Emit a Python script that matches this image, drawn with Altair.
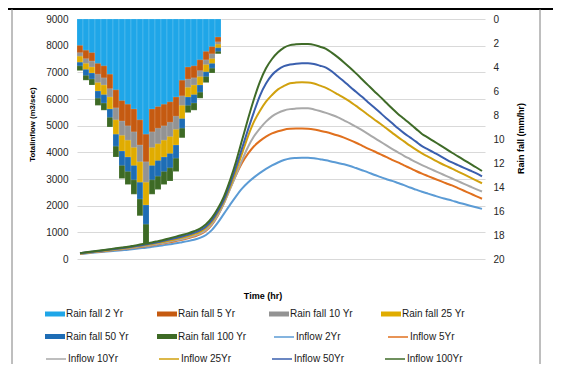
import altair as alt
import pandas as pd

# ---------------- data ----------------
rain_hours = list(range(1, 25))
rain_2yr = [2.2, 2.6, 2.8, 3.7, 3.9, 4.6, 5.9, 6.8, 7.1, 7.5, 8.4, 9.6, 7.5, 7.3, 7.1, 6.9, 6.5, 5.1, 4.0, 3.9, 3.4, 2.7, 2.3, 1.5]
rain_5yr = [2.8, 3.3, 3.5, 4.6, 4.9, 5.8, 7.4, 8.5, 8.9, 9.4, 10.5, 11.9, 9.4, 9.1, 8.9, 8.6, 8.1, 6.4, 5.0, 4.9, 4.3, 3.4, 2.9, 1.9]
rain_10yr = [3.1, 3.7, 4.0, 5.3, 5.5, 6.5, 8.4, 9.7, 10.1, 10.7, 11.9, 13.6, 10.7, 10.4, 10.1, 9.8, 9.2, 7.2, 5.7, 5.5, 4.8, 3.8, 3.3, 2.1]
rain_25yr = [3.6, 4.2, 4.5, 6.0, 6.3, 7.5, 9.6, 11.0, 11.5, 12.2, 13.6, 15.5, 12.2, 11.8, 11.5, 11.2, 10.5, 8.3, 6.5, 6.3, 5.5, 4.4, 3.7, 2.4]
rain_50yr = [3.9, 4.7, 5.0, 6.6, 7.0, 8.2, 10.6, 12.2, 12.7, 13.4, 15.0, 17.1, 13.4, 13.1, 12.7, 12.4, 11.6, 9.1, 7.2, 7.0, 6.1, 4.8, 4.1, 2.7]
rain_100yr = [4.3, 5.1, 5.5, 7.2, 7.6, 9.0, 11.5, 13.3, 13.8, 14.6, 16.4, 18.7, 14.6, 14.2, 13.8, 13.5, 12.7, 9.9, 7.8, 7.6, 6.6, 5.3, 4.5, 2.9]

flow_hours = list(range(1, 69))
flow_2yr = [190, 210, 230, 250, 270, 290, 310, 330, 350, 375,
            400, 425, 455, 485, 520, 555, 590, 630, 670, 720,
            790, 900, 1090, 1370, 1700, 2030, 2350, 2640, 2870, 3060,
            3230, 3380, 3510, 3620, 3710, 3770, 3790, 3800, 3800, 3780,
            3740, 3700, 3650, 3600, 3550, 3490, 3410, 3330, 3250, 3160,
            3080, 3000, 2930, 2850, 2770, 2680, 2600, 2520, 2450, 2380,
            2310, 2250, 2190, 2120, 2060, 2000, 1940, 1880]
flow_5yr = [200, 225, 250, 275, 295, 320, 345, 370, 395, 420,
            450, 480, 515, 550, 590, 630, 675, 720, 775, 840,
            920, 1060, 1290, 1640, 2100, 2640, 3150, 3600, 3950, 4230,
            4430, 4590, 4710, 4790, 4850, 4880, 4890, 4890, 4885, 4860,
            4810, 4760, 4700, 4630, 4550, 4460, 4360, 4250, 4140, 4040,
            3930, 3830, 3720, 3620, 3510, 3410, 3300, 3200, 3110, 3020,
            2930, 2840, 2760, 2660, 2560, 2460, 2360, 2260]
flow_10yr = [205, 230, 255, 280, 305, 330, 355, 380, 405, 435,
             465, 500, 535, 570, 610, 655, 700, 750, 805, 870,
             950, 1090, 1320, 1660, 2100, 2620, 3150, 3700, 4200, 4600,
             4900, 5150, 5350, 5480, 5570, 5620, 5640, 5650, 5650, 5610,
             5550, 5480, 5400, 5310, 5200, 5090, 4960, 4830, 4690, 4550,
             4410, 4270, 4130, 4000, 3870, 3750, 3630, 3520, 3420, 3320,
             3220, 3120, 3020, 2920, 2820, 2720, 2620, 2530]
flow_25yr = [210, 235, 260, 290, 315, 340, 370, 395, 425, 455,
             490, 525, 565, 605, 650, 700, 750, 805, 865, 935,
             1020, 1170, 1400, 1740, 2170, 2700, 3300, 3950, 4600, 5150,
             5560, 5900, 6150, 6360, 6490, 6590, 6615, 6625, 6620, 6580,
             6500, 6420, 6300, 6170, 6040, 5900, 5740, 5580, 5410, 5240,
             5080, 4910, 4740, 4570, 4410, 4250, 4100, 3960, 3840, 3720,
             3600, 3490, 3390, 3280, 3170, 3060, 2950, 2840]
flow_50yr = [215, 240, 270, 300, 325, 355, 385, 410, 440, 475,
             510, 550, 590, 635, 680, 735, 790, 845, 905, 980,
             1070, 1220, 1460, 1800, 2230, 2800, 3450, 4150, 4850, 5520,
             6130, 6580, 6900, 7100, 7230, 7290, 7325, 7340, 7340, 7310,
             7250, 7180, 7030, 6840, 6660, 6460, 6270, 6080, 5880, 5690,
             5490, 5290, 5100, 4900, 4720, 4560, 4400, 4230, 4110, 3990,
             3870, 3740, 3620, 3520, 3420, 3320, 3220, 3100]
flow_100yr = [220, 250, 280, 310, 340, 370, 400, 430, 460, 500,
              540, 580, 620, 670, 720, 780, 840, 900, 960, 1040,
              1140, 1300, 1550, 1900, 2350, 2950, 3650, 4450, 5250, 6000,
              6650, 7150, 7500, 7750, 7930, 8020, 8050, 8065, 8060, 8030,
              7960, 7880, 7730, 7560, 7370, 7170, 6960, 6740, 6520, 6300,
              6090, 5870, 5650, 5440, 5260, 5070, 4880, 4690, 4550, 4410,
              4270, 4130, 3985, 3850, 3710, 3575, 3440, 3300]

rain_names = ["Rain fall 2 Yr", "Rain fall 5 Yr", "Rain fall 10 Yr",
              "Rain fall 25 Yr", "Rain fall 50 Yr", "Rain fall 100 Yr"]
flow_names = ["Inflow 2Yr", "Inflow 5Yr", "Inflow 10Yr",
              "Inflow 25Yr", "Inflow 50Yr", "Inflow 100Yr"]
rain_colors = ["#1FA6E8", "#C55A11", "#939393", "#E0AC00", "#1E6DB5", "#3D6A25"]
flow_colors = ["#5B9BD5", "#E0701E", "#A9A9A9", "#D1A10E", "#3A5FAE", "#3F6B28"]
x_tick_values = [1, 11, 21, 31, 41, 51, 61]
x_title = "Time (hr)"

rain_series = [rain_2yr, rain_5yr, rain_10yr, rain_25yr, rain_50yr, rain_100yr]
flow_series = [flow_2yr, flow_5yr, flow_10yr, flow_25yr, flow_50yr, flow_100yr]

# bars: biggest (100 yr) drawn first so smaller ones are in front
rain_rows = []
for name, vals in reversed(list(zip(rain_names, rain_series))):
    for h, v in zip(rain_hours, vals):
        rain_rows.append({"hour": h, "series": name, "rain": v})
rain_df = pd.DataFrame(rain_rows)

flow_rows = []
for name, vals in zip(flow_names, flow_series):
    for h, v in zip(flow_hours, vals):
        flow_rows.append({"hour": h, "series": name, "flow": v})
flow_df = pd.DataFrame(flow_rows)
flow_a = flow_df[flow_df["series"].isin(flow_names[:2])]
flow_b = flow_df[flow_df["series"].isin(flow_names[2:])]

FONT = "Liberation Sans"
x_scale = alt.Scale(domain=[0.5, 68.5], nice=False, zero=False)
y_flow_scale = alt.Scale(domain=[0, 9000], nice=False)
LX = -32
LY = 285
PITCH = 114

common_legend = dict(orient="none", title=None, symbolSize=400, direction="horizontal",
                     labelFontSize=10, labelFont=FONT, labelColor="#1a1a1a",
                     labelOffset=1, gridAlign="all")

rain_legend = alt.Legend(legendX=LX, legendY=LY, columns=4, columnPadding=22,
                         rowPadding=7.5, symbolType="M-1,-0.25H1V0.25H-1Z",
                         symbolStrokeWidth=0, **common_legend)
flow_a_legend = alt.Legend(legendX=LX + 2 * PITCH, legendY=LY + 22, columns=2,
                           columnPadding=44, symbolType="stroke",
                           symbolStrokeWidth=1.5, **common_legend)
flow_b_legend = alt.Legend(legendX=LX, legendY=LY + 44, columns=4,
                           columnPadding=32, symbolType="stroke",
                           symbolStrokeWidth=1.5, **common_legend)

label_style = dict(labelFont=FONT, labelFontSize=10, labelColor="#262626",
                   titleFont=FONT, titleFontWeight="bold", titleColor="#000000")

bars = alt.Chart(rain_df).transform_calculate(
    x0="datum.hour - 0.5", x1="datum.hour + 0.5", zero="0"
).mark_bar(stroke="white", strokeWidth=0.5, strokeOpacity=0.3).encode(
    x=alt.X("x0:Q", scale=x_scale, axis=None),
    x2="x1:Q",
    y=alt.Y("rain:Q", scale=alt.Scale(domain=[0, 20], reverse=True, nice=False),
            axis=alt.Axis(orient="right", values=list(range(0, 21, 2)), title="Rain fall (mm/hr)",
                          grid=False, domain=False, ticks=False, tickSize=0, labelPadding=8,
                          titleFontSize=9, titleAngle=270, titleX=35, titleY=119,
                          titleAlign="center", titleBaseline="middle", **label_style)),
    y2="zero:Q",
    fill=alt.Fill("series:N", scale=alt.Scale(domain=rain_names, range=rain_colors),
                  legend=rain_legend),
)

x_axis = alt.Axis(values=x_tick_values, title=None, grid=False, ticks=False, tickSize=0,
                  domainColor="#A6A6A6", domainWidth=1.5, labelPadding=6, **label_style)
y_axis = alt.Axis(orient="left", values=list(range(0, 9001, 1000)), format="d",
                  title="Totalinflow (m3/sec)", grid=True, gridColor="#D9D9D9", gridWidth=1,
                  domain=False, ticks=False, tickSize=0, labelPadding=9,
                  titleFontSize=7.8, titleAngle=270, titleX=-45, titleY=105,
                  titleAlign="center", titleBaseline="middle", **label_style)

lines_a = alt.Chart(flow_a).mark_line(strokeWidth=2, interpolate="monotone").encode(
    x=alt.X("hour:Q", scale=x_scale, axis=x_axis),
    y=alt.Y("flow:Q", scale=y_flow_scale, axis=y_axis),
    stroke=alt.Stroke("series:N", scale=alt.Scale(domain=flow_names[:2], range=flow_colors[:2]),
                      legend=flow_a_legend),
)
lines_b = alt.Chart(flow_b).mark_line(strokeWidth=2, interpolate="monotone").encode(
    x=alt.X("hour:Q", scale=x_scale, axis=x_axis),
    y=alt.Y("flow:Q", scale=y_flow_scale, axis=y_axis),
    color=alt.Color("series:N", scale=alt.Scale(domain=flow_names[2:], range=flow_colors[2:]),
                    legend=flow_b_legend),
)

frame_df = pd.DataFrame([{"k": 0}])
x_title_mark = alt.Chart(frame_df).mark_text(
    text=x_title, font=FONT, fontSize=9, fontWeight="bold", color="#000000",
    align="center", baseline="middle"
).encode(x=alt.value(186), y=alt.value(277))
top_line = alt.Chart(frame_df).mark_rule(color="#000000", strokeWidth=2).encode(
    x=alt.value(-69), x2=alt.value(476), y=alt.value(-10))
left_line = alt.Chart(frame_df).mark_rule(color="#7F7F7F", strokeWidth=1).encode(
    x=alt.value(-65), y=alt.value(-10), y2=alt.value(350))
right_line = alt.Chart(frame_df).mark_rule(color="#7F7F7F", strokeWidth=1).encode(
    x=alt.value(463), y=alt.value(-10), y2=alt.value(350))

lines = alt.layer(lines_a, lines_b)

chart = alt.layer(bars, lines, x_title_mark, top_line, left_line, right_line).resolve_scale(
    y="independent"
).properties(
    width=408, height=240,
    padding={"left": 69, "top": 11, "right": 68, "bottom": 105},
    autosize=alt.AutoSizeParams(type="none"),
    background="white",
).configure_view(stroke=None)

chart.save("out.html", embed_options={"renderer": "svg", "actions": False})
